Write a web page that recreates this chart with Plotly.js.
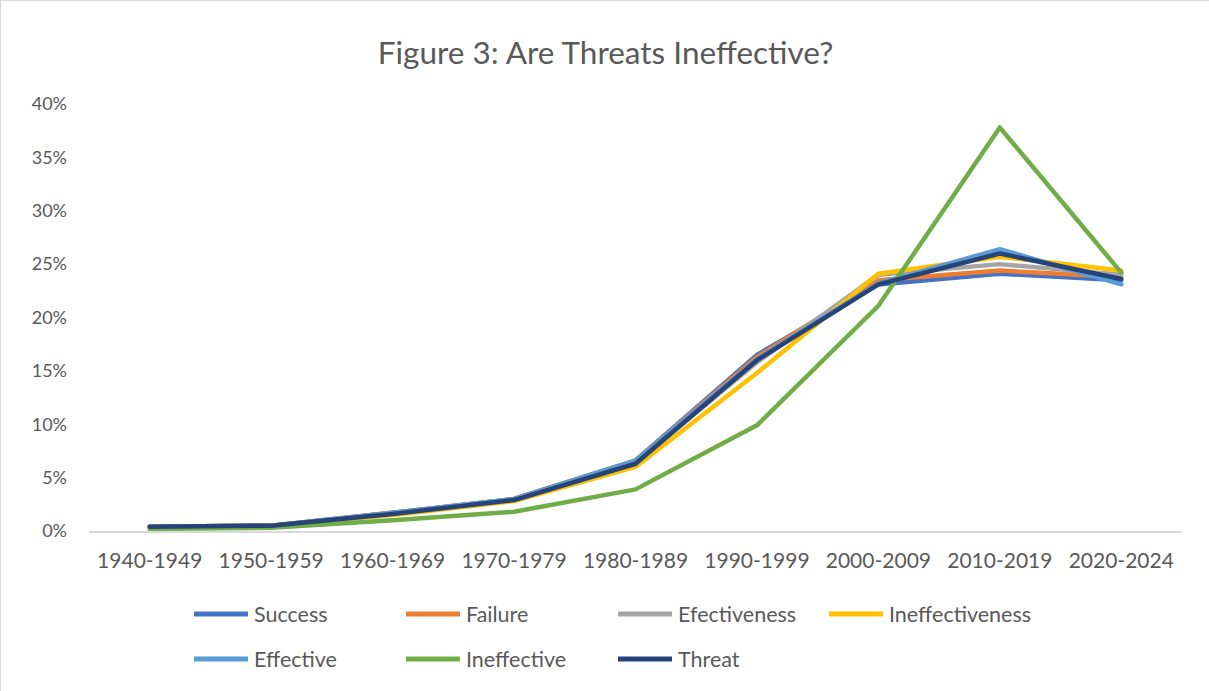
<!DOCTYPE html>
<html>
<head>
<meta charset="utf-8">
<script src="https://cdn.plot.ly/plotly-3.0.1.min.js"></script>
<style>
html,body{margin:0;padding:0;background:#fff;}
#chart{width:1209px;height:691px;box-sizing:border-box;border:1px solid #D9D9D9;}
.scatterlayer .js-line{stroke-linecap:round;stroke-linejoin:round;}
</style>
</head>
<body>
<div id="chart"></div>
<script>
const decades = ["1940-1949","1950-1959","1960-1969","1970-1979","1980-1989","1990-1999","2000-2009","2010-2019","2020-2024"];
const success          = [0.004,0.005,0.017,0.030,0.066,0.165,0.231,0.241,0.235];
const failure          = [0.004,0.005,0.017,0.030,0.066,0.163,0.235,0.244,0.238];
const efectiveness     = [0.004,0.005,0.016,0.029,0.064,0.158,0.240,0.250,0.240];
const ineffectiveness  = [0.004,0.005,0.015,0.028,0.060,0.148,0.241,0.257,0.244];
const effective        = [0.004,0.005,0.017,0.030,0.066,0.161,0.232,0.264,0.231];
const ineffective      = [0.002,0.003,0.010,0.018,0.039,0.099,0.211,0.378,0.242];
const threat           = [0.004,0.005,0.016,0.029,0.063,0.160,0.231,0.260,0.236];

const seriesNames  = ["Success","Failure","Efectiveness","Ineffectiveness","Effective","Ineffective","Threat"];
const seriesValues = [success,failure,efectiveness,ineffectiveness,effective,ineffective,threat];
const seriesColors = ["#4472C4","#ED7D31","#A5A5A5","#FFC000","#5B9BD5","#70AD47","#264478"];

const traces = seriesNames.map((n,i)=>({
  x: decades, y: seriesValues[i], name: n, type: "scatter", mode: "lines",
  line: {color: seriesColors[i], width: 4.5},
  hoverinfo: "skip", showlegend: false
}));

const fam = "Lato, 'Open Sans', sans-serif";
const txtColor = "#595959";

// Legend (drawn in paper coordinates below the plot), Excel-style long line samples
const W = 1093, H = 427, L = 88, B = 530;
const legCols = [193, 405, 617, 828];
const legRows = [613, 658];
const shapes = [], annotations = [];
seriesNames.forEach((n,i)=>{
  const col = legCols[i % 4], row = legRows[Math.floor(i / 4)];
  const py = (B - row) / H;
  shapes.push({type: "line", xref: "paper", yref: "paper",
    x0: (col - L) / W, x1: (col + 54 - L) / W, y0: py, y1: py,
    line: {color: seriesColors[i], width: 5}});
  annotations.push({xref: "paper", yref: "paper", x: (col + 58 - L) / W, y: py,
    xanchor: "left", yanchor: "middle", showarrow: false, text: n,
    font: {family: fam, size: 21.5, color: txtColor}});
});

const layout = {
  width: 1209, height: 691,
  margin: {l: 88, r: 28, t: 103, b: 161},
  paper_bgcolor: "#fff", plot_bgcolor: "#fff",
  font: {family: fam, color: txtColor},
  title: {text: "Figure 3: Are Threats Ineffective?", font: {size: 31.5, color: txtColor, family: fam},
    x: 0.5, xanchor: "center", y: 0.925, yanchor: "middle"},
  xaxis: {
    type: "category", range: [-0.5, 8.5], showgrid: false, zeroline: false,
    showline: true, linecolor: "#D9D9D9", linewidth: 1.5,
    ticks: "", ticklabelstandoff: 10, tickfont: {size: 21, color: txtColor}, fixedrange: true
  },
  yaxis: {
    range: [0, 0.4], dtick: 0.05, tickformat: ".0%", showgrid: false,
    zeroline: false, showline: false, ticks: "", ticklabelstandoff: 21,
    tickfont: {size: 18, color: txtColor}, fixedrange: true
  },
  shapes: shapes,
  annotations: annotations,
  showlegend: false
};

Plotly.newPlot("chart", traces, layout, {displayModeBar: false, staticPlot: true});
</script>
</body>
</html>
